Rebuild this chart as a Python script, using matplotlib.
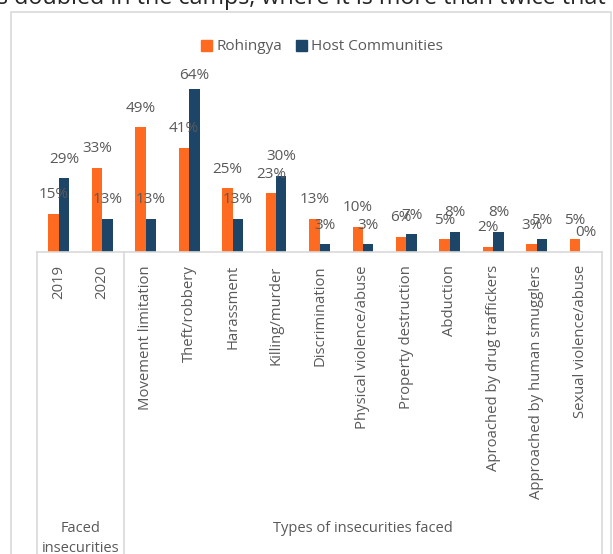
import matplotlib
matplotlib.use("Agg")
import matplotlib.pyplot as plt
import numpy as np
from matplotlib.patches import Rectangle, Patch
import matplotlib.transforms as mtransforms

categories = ["2019", "2020", "Movement limitation", "Theft/robbery", "Harassment",
              "Killing/murder", "Discrimination", "Physical violence/abuse",
              "Property destruction", "Abduction", "Aproached by drug traffickers",
              "Approached by human smugglers", "Sexual violence/abuse"]
rohingya = [15, 33, 49, 41, 25, 23, 13, 10, 6, 5, 2, 3, 5]
host = [29, 13, 13, 64, 13, 30, 3, 3, 7, 8, 8, 5, 0]
series_names = ["Rohingya", "Host Communities"]
group_labels = ["Faced\ninsecurities", "Types of insecurities faced"]
title_fragment = "s doubled in the camps, where it is more than twice that"

ORANGE = "#FF6A21"
BLUE = "#1C4567"
TXT = "#595959"
GRID = "#D9D9D9"

plt.rcParams['font.family'] = ['Open Sans', 'DejaVu Sans']

W, H = 613, 554
fig = plt.figure(figsize=(W / 100, H / 100), dpi=100)

def fx(px):
    return px / W

def fy(py):
    return 1 - py / H

# axes: plot area
ax_left, ax_right, ax_top, ax_bottom = 37, 602, 66, 252
ax = fig.add_axes([fx(ax_left), fy(ax_bottom), fx(ax_right - ax_left), (ax_bottom - ax_top) / H])
ymax = 73
ax.set_ylim(0, ymax)
ax.set_xlim(-0.5, len(categories) - 0.5)

x = np.arange(len(categories))
bw = 0.24
ax.bar(x - bw / 2, rohingya, width=bw, color=ORANGE, label=series_names[0], zorder=2)
ax.bar(x + bw / 2, host, width=bw, color=BLUE, label=series_names[1], zorder=2)

gap = 6.1
for xi, v in zip(x - bw / 2, rohingya):
    ax.text(xi, min(v + gap, ymax - 5.1), f"{v}%", ha='center', va='baseline',
            fontsize=11, color=TXT, zorder=3)
for xi, v in zip(x + bw / 2, host):
    ax.text(xi, min(v + gap, ymax - 5.1), f"{v}%", ha='center', va='baseline',
            fontsize=11, color=TXT, zorder=3)

for s in ["left", "right", "top"]:
    ax.spines[s].set_visible(False)
ax.spines["bottom"].set_color(GRID)
ax.spines["bottom"].set_linewidth(1.2)
ax.set_yticks([])
ax.set_xticks(x)
ax.set_xticklabels(categories, rotation=90, fontsize=10.7, color=TXT)
ax.tick_params(axis='x', length=0, pad=9.5)

# multi-level category dividers
trans = mtransforms.blended_transform_factory(ax.transData, ax.transAxes)
for xb in [-0.5, 1.5, len(categories) - 0.5]:
    ax.plot([xb, xb], [0, -2], transform=trans, color=GRID, lw=1.2, clip_on=False)

# group labels
fig.text(fx(80.5), fy(521), group_labels[0], ha='center', va='top', fontsize=10.5,
         color=TXT, linespacing=1.45)
fig.text(fx(363), fy(528), group_labels[1], ha='center', va='center', fontsize=10.5,
         color=TXT)

# legend
handles = [Patch(color=ORANGE, label=series_names[0]), Patch(color=BLUE, label=series_names[1])]
fig.legend(handles=handles, loc='center', bbox_to_anchor=(fx(322), fy(47)), ncol=2,
           frameon=False, fontsize=11, labelcolor=TXT, handlelength=0.7,
           handleheight=0.7, handletextpad=0.3, columnspacing=0.9)

# outer chart frame
fig.patches.append(Rectangle((fx(11), fy(570)), fx(600), (570 - 12) / H,
                             transform=fig.transFigure, fill=False,
                             edgecolor=GRID, lw=1.2))

# cropped document text at top
fig.text(fx(-3), fy(4), title_fragment, ha='left', va='baseline', fontsize=16.8,
         color="#262626")

fig.savefig("out.png", dpi=100)
